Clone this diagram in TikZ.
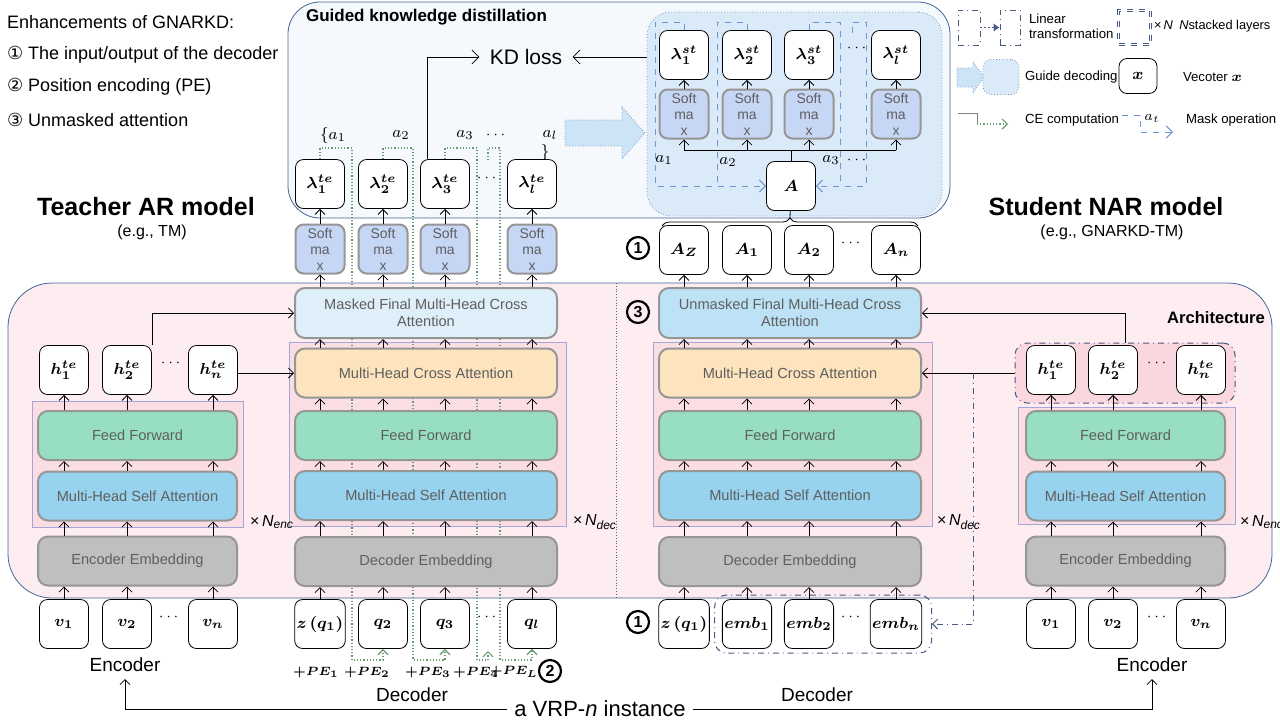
\documentclass[tikz,border=0pt]{standalone}
\usepackage{amsmath}
\usepackage{bm}
\usepackage{fontspec}
\setmainfont{Liberation Sans}
\newfontfamily\circfont{DejaVu Sans}
\usetikzlibrary{arrows.meta,decorations.pathreplacing}
\pgfdeclarelayer{back}
\pgfdeclarelayer{mid}
\pgfsetlayers{back,mid,main}
\definecolor{archpink}{RGB}{253,236,240}
\definecolor{archline}{RGB}{68,100,150}
\definecolor{stackpink}{RGB}{251,221,228}
\definecolor{stackline}{RGB}{165,165,215}
\definecolor{kdfill}{RGB}{245,249,253}
\definecolor{guidefill}{RGB}{218,234,248}
\definecolor{guideline}{RGB}{120,150,190}
\definecolor{smblue}{RGB}{198,214,245}
\definecolor{finlight}{RGB}{222,239,250}
\definecolor{finblue}{RGB}{189,226,245}
\definecolor{caorange}{RGB}{253,228,190}
\definecolor{ffgreen}{RGB}{152,222,192}
\definecolor{sablue}{RGB}{151,210,238}
\definecolor{embgray}{RGB}{191,191,191}
\definecolor{boxgray}{RGB}{150,150,150}
\definecolor{txtgray}{RGB}{95,95,95}
\definecolor{cegreen}{RGB}{105,155,115}
\definecolor{maskblue}{RGB}{110,150,210}
\definecolor{linblue}{RGB}{70,90,130}
\definecolor{grppink}{RGB}{250,214,222}
\definecolor{arrowfill}{RGB}{205,228,247}
\begin{document}
\begin{tikzpicture}[
    x=0.5pt, y=-0.5pt, line width=0.5pt,
    font=\fontsize{7.3}{8.5}\selectfont,
    vec/.style={draw, rounded corners=4pt, fill=white, minimum width=24.5pt, minimum height=24.5pt, inner sep=1pt, font=\fontsize{8}{9}\selectfont},
    blk/.style={draw=boxgray, line width=1pt, rounded corners=5pt, minimum height=24.5pt, text=txtgray, align=center, inner sep=1pt},
    softbox/.style={draw=boxgray, line width=1pt, rounded corners=4pt, fill=smblue, minimum width=24.5pt, minimum height=24.5pt, text=txtgray, align=center, inner sep=0pt, font=\fontsize{7}{8}\selectfont},
    dotsep/.style={font=\fontsize{7}{8}\selectfont, inner sep=0pt},
    stackbg/.style={draw=stackline, fill=stackpink, line width=0.5pt},
    arr/.style={-{Straight Barb[length=2.5pt,width=5pt]}},
    ce/.style={densely dotted, draw=cegreen, line width=0.6pt},
    cearr/.style={ce, -{Straight Barb[length=2.5pt,width=5pt]}},
    mask/.style={dashed, draw=maskblue, line width=0.5pt},
    maskarr/.style={mask, -{Straight Barb[length=3pt,width=6pt]}},
    lin/.style={dash dot, draw=linblue, line width=0.5pt},
    circnum/.style={circle, draw, line width=1.1pt, inner sep=0pt, minimum size=11pt, font=\fontsize{8}{8}\selectfont\bfseries},
    legtext/.style={anchor=west, font=\fontsize{6.6}{7.6}\selectfont, align=left},
    petext/.style={font=\fontsize{5.8}{6}\selectfont, inner sep=0pt},
    bigtext/.style={font=\fontsize{9}{11}\selectfont, anchor=west}
]
\useasboundingbox (0,0) rectangle (1280,720);

% backgrounds
\begin{pgfonlayer}{back}
\draw[archline, fill=archpink, rounded corners=22pt] (8,283) rectangle (1272,598);
\draw[archline, densely dotted] (616,283) -- (616,598);
\draw[archline, fill=kdfill, rounded corners=16pt] (288,2) rectangle (950,218);
\node[draw=guideline, densely dotted, fill=guidefill, rounded corners=12pt, minimum width=147.5pt, minimum height=102pt] (guide) at (794.5,114) {};
\draw[guideline, densely dotted, fill=arrowfill] (565,120) -- (622,120) -- (622,107) -- (645,133) -- (622,159) -- (622,146) -- (565,146) -- cycle;
\draw[stackbg] (32,401) rectangle (243,527);
\draw[stackbg] (289,342) rectangle (566,526);
\draw[stackbg] (653,342) rectangle (932,526);
\draw[stackbg] (1018,407) rectangle (1235,524);
\node[lin, fill=grppink, rounded corners=6pt, minimum width=110pt, minimum height=30pt] (sgrp) at (1125,373) {};
\end{pgfonlayer}

% legend, left
\node[bigtext] (enh) at (0,22) {Enhancements of GNARKD:};
\node[bigtext] (enh1) at (0,55) {{\circfont ①} The input/output of the decoder};
\node[bigtext] (enh2) at (0,87) {{\circfont ②} Position encoding (PE)};
\node[bigtext] (enh3) at (0,120) {{\circfont ③} Unmasked attention};

% titles
\node[font=\fontsize{12.5}{14}\selectfont\bfseries] (ttitle) at (146,207) {Teacher AR model};
\node[font=\fontsize{8}{9}\selectfont] (tsub) at (152,232) {(e.g., TM)};
\node[font=\fontsize{12.5}{14}\selectfont\bfseries] (stitle) at (1106,207) {Student NAR model};
\node[font=\fontsize{8}{9}\selectfont] (ssub) at (1112,232) {(e.g., GNARKD-TM)};
\node[anchor=west, font=\fontsize{8.5}{10}\selectfont\bfseries] (kdtitle) at (299,17) {Guided knowledge distillation};
\node[font=\fontsize{8.3}{10}\selectfont\bfseries] (archtitle) at (1216,318) {Architecture};

% teacher encoder
\node[vec] (tv1) at (64,624) {$\bm{v_1}$};
\node[vec] (tv2) at (127,624) {$\bm{v_2}$};
\node[vec] (tvn) at (213,624) {$\bm{v_n}$};
\node[dotsep] at (170,617) {$\cdots$};
\node[blk, fill=embgray, minimum width=99.5pt] (tenc) at (137.5,561) {Encoder Embedding};
\node[blk, fill=sablue, minimum width=99.5pt] (tesa) at (137.5,496) {Multi-Head Self Attention};
\node[blk, fill=ffgreen, minimum width=99.5pt] (teff) at (137.5,435.5) {Feed Forward};
\node[vec] (th1) at (64,370) {$\bm{h_1^{te}}$};
\node[vec] (th2) at (127,370) {$\bm{h_2^{te}}$};
\node[vec] (thn) at (213,370) {$\bm{h_n^{te}}$};
\node[dotsep] at (172,363) {$\cdots$};
\node[anchor=west, font=\fontsize{8}{9}\selectfont] at (243,522) {×\,\textit{N}\textsubscript{\textit{enc}}};
\foreach \v/\h in {tv1/th1, tv2/th2, tvn/thn} {
  \draw[arr] (\v) -- (\v |- tenc.south);
  \draw[arr] (\v |- tenc.north) -- (\v |- tesa.south);
  \draw[arr] (\v |- tesa.north) -- (\v |- teff.south);
  \draw[arr] (\v |- teff.north) -- (\h);
}

% teacher decoder
\node[vec] (tq1) at (320,624) {$\bm{z\,(q_1)}$};
\node[vec] (tq2) at (383,624) {$\bm{q_2}$};
\node[vec] (tq3) at (445,624) {$\bm{q_3}$};
\node[vec] (tql) at (532,624) {$\bm{q_l}$};
\node[dotsep] at (488,617) {$\cdots$};
\node[blk, fill=embgray, minimum width=131pt] (tdemb) at (426,561.5) {Decoder Embedding};
\node[blk, fill=sablue, minimum width=131pt] (tdsa) at (426,495.5) {Multi-Head Self Attention};
\node[blk, fill=ffgreen, minimum width=131pt] (tdff) at (426,435.5) {Feed Forward};
\node[blk, fill=caorange, minimum width=131pt] (tdca) at (426,373) {Multi-Head Cross Attention};
\node[blk, fill=finlight, minimum width=131pt, minimum height=25pt] (tfin) at (426,313) {Masked Final Multi-Head Cross\\Attention};
\node[anchor=west, font=\fontsize{8}{9}\selectfont] at (566,522) {×\,\textit{N}\textsubscript{\textit{dec}}};
\foreach \i/\x in {1/320, 2/383, 3/445, l/532} {
  \node[softbox] (tsm\i) at (\x,249) {Soft\\ma\\x};
  \node[vec] (tl\i) at (\x,184) {$\bm{\lambda_{\i}^{te}}$};
}
\node[dotsep] at (488,178) {$\cdots$};
\foreach \i in {1,2,3,l} {
  \draw[arr] (tq\i) -- (tq\i |- tdemb.south);
  \draw[arr] (tq\i |- tdemb.north) -- (tq\i |- tdsa.south);
  \draw[arr] (tq\i |- tdsa.north) -- (tq\i |- tdff.south);
  \draw[arr] (tq\i |- tdff.north) -- (tq\i |- tdca.south);
  \draw[arr] (tq\i |- tdca.north) -- (tq\i |- tfin.south);
  \draw[arr] (tq\i |- tfin.north) -- (tsm\i);
  \draw[arr] (tsm\i) -- (tl\i);
}
\draw[arr] (thn.east |- tdca.west) -- (tdca.west);
\draw[arr] (th2.north east) |- (tfin.west);

% position encodings
\node[petext] at (316,672) {$\bm{+PE_1}$};
\node[petext] at (367,672) {$\bm{+PE_2}$};
\node[petext] at (428,672) {$\bm{+PE_3}$};
\node[petext] at (476,672) {$\bm{+PE_4}$};
\node[petext] at (514,672) {$\bm{+PE_L}$};
\node[circnum] (n2) at (550,671) {2};

% labels above teacher outputs
\node[font=\fontsize{8}{9}\selectfont] at (333,135) {$\{a_1$};
\node[font=\fontsize{8}{9}\selectfont] at (401,135) {$a_2$};
\node[font=\fontsize{8}{9}\selectfont] at (465,135) {$a_3$};
\node[dotsep] at (497,135) {$\cdots$};
\node[font=\fontsize{8}{9}\selectfont] at (550,135) {$a_l$};
\node[font=\fontsize{8}{9}\selectfont] at (545,152) {$\}$};

% CE computation lines
\coordinate (tpe4) at (488,651);
\coordinate (tdt) at (488,160);
\begin{pgfonlayer}{mid}
\draw[cearr] (tl1.north) |- (352,148) -- (352,660) -| (tq2.south);
\draw[cearr] (tl2.north) |- (413,148) -- (413,660) -| (tq3.south);
\draw[cearr] (tl3.north) |- (477,148) -- (477,660) -| (tpe4);
\draw[cearr] (tdt) |- (500,148) -- (500,660) -| (tql.south);
\end{pgfonlayer}

% KD loss
\node[font=\fontsize{10.5}{12}\selectfont, inner sep=5pt] (kd) at (526,57) {KD loss};
\draw[-{Straight Barb[length=3.5pt,width=7pt]}] ([xshift=-9pt]tl3.north) |- (kd.west);
\draw[-{Straight Barb[length=3.5pt,width=7pt]}] (guide.west |- kd.west) -- (kd.east);

% guide decoding
\foreach \i/\x in {1/684, 2/747, 3/809, l/896} {
  \node[vec] (gl\i) at (\x,55) {$\bm{\lambda_{\i}^{st}}$};
  \node[softbox] (gs\i) at (\x,114) {Soft\\ma\\x};
  \draw[arr] (gs\i) -- (gl\i);
}
\node[dotsep] at (858,48) {$\cdots$};
\node[vec] (gA) at (791,186) {$\bm{A}$};
\coordinate (bus) at (791,150);
\draw (gA) -- (bus);
\draw (gs1 |- bus) -- (gsl |- bus);
\foreach \i in {1,2,3,l} \draw[arr] (gs\i |- bus) -- (gs\i);
\draw[maskarr] (gl1.north) |- (655,22) |- (gA.west);
\draw[mask] (gl2.north) |- (717,22) -- (717,186);
\draw[mask] (gl3.north) |- (840,22) -- (840,186);
\coordinate (gdt) at (852,33);
\draw[maskarr] (gdt) |- (866,22) |- (gA.east);
\node[font=\fontsize{8}{9}\selectfont] at (664,160) {$a_1$};
\node[font=\fontsize{8}{9}\selectfont] at (728,162) {$a_2$};
\node[font=\fontsize{8}{9}\selectfont] at (831,160) {$a_3$};
\node[dotsep] at (858,160) {$\cdots$};

% student decoder
\node[vec] (sb1) at (684,624) {$\bm{z\,(q_1)}$};
\node[vec] (sb2) at (747,624) {$\bm{emb_1}$};
\node[vec] (sb3) at (809,624) {$\bm{emb_2}$};
\node[vec] (sb4) at (896,624) {$\bm{emb_n}$};
\node[dotsep] at (852,617) {$\cdots$};
\node[lin, rounded corners=6pt, minimum width=108.5pt, minimum height=29pt] (sembgrp) at (823,624) {};
\node[circnum] (n1b) at (638,622) {1};
\node[blk, fill=embgray, minimum width=131pt] (sdemb) at (790,561.5) {Decoder Embedding};
\node[blk, fill=sablue, minimum width=131pt] (sdsa) at (790,495.5) {Multi-Head Self Attention};
\node[blk, fill=ffgreen, minimum width=131pt] (sdff) at (790,435.5) {Feed Forward};
\node[blk, fill=caorange, minimum width=131pt] (sdca) at (790,373) {Multi-Head Cross Attention};
\node[blk, fill=finblue, minimum width=131pt, minimum height=25pt] (sfin) at (790,313) {Unmasked Final Multi-Head Cross\\Attention};
\node[anchor=west, font=\fontsize{8}{9}\selectfont] at (930,522) {×\,\textit{N}\textsubscript{\textit{dec}}};
\node[circnum] (n3) at (638,312) {3};
\node[vec] (sa1) at (684,250) {$\bm{A_Z}$};
\node[vec] (sa2) at (747,250) {$\bm{A_1}$};
\node[vec] (sa3) at (809,250) {$\bm{A_2}$};
\node[vec] (sa4) at (896,250) {$\bm{A_n}$};
\node[dotsep] at (852,243) {$\cdots$};
\node[circnum] (n1a) at (638,248) {1};
\foreach \i in {1,2,3,4} {
  \draw[arr] (sb\i) -- (sb\i |- sdemb.south);
  \draw[arr] (sb\i |- sdemb.north) -- (sb\i |- sdsa.south);
  \draw[arr] (sb\i |- sdsa.north) -- (sb\i |- sdff.south);
  \draw[arr] (sb\i |- sdff.north) -- (sb\i |- sdca.south);
  \draw[arr] (sb\i |- sdca.north) -- (sb\i |- sfin.south);
  \draw[arr] (sb\i |- sfin.north) -- (sa\i);
}
\draw[decorate, decoration={brace, amplitude=4pt}] (662,226) -- (918,226);
\coordinate (btip) at (790,218);
\draw (btip) -- (gA);

% student encoder
\node[vec] (sv1) at (1051,624) {$\bm{v_1}$};
\node[vec] (sv2) at (1113,624) {$\bm{v_2}$};
\node[vec] (svn) at (1201,624) {$\bm{v_n}$};
\node[dotsep] at (1158,617) {$\cdots$};
\node[blk, fill=embgray, minimum width=99.5pt] (senc) at (1125.5,561) {Encoder Embedding};
\node[blk, fill=sablue, minimum width=99.5pt] (sesa) at (1125.5,496) {Multi-Head Self Attention};
\node[blk, fill=ffgreen, minimum width=99.5pt] (seff) at (1125.5,435.5) {Feed Forward};
\node[vec] (sh1) at (1051,370) {$\bm{h_1^{te}}$};
\node[vec] (sh2) at (1113,370) {$\bm{h_2^{te}}$};
\node[vec] (shn) at (1201,370) {$\bm{h_n^{te}}$};
\node[dotsep] at (1158,363) {$\cdots$};
\node[anchor=west, font=\fontsize{8}{9}\selectfont] at (1233,522) {×\,\textit{N}\textsubscript{\textit{enc}}};
\foreach \v/\h in {sv1/sh1, sv2/sh2, svn/shn} {
  \draw[arr] (\v) -- (\v |- senc.south);
  \draw[arr] (\v |- senc.north) -- (\v |- sesa.south);
  \draw[arr] (\v |- sesa.north) -- (\v |- seff.south);
  \draw[arr] (\v |- seff.north) -- (\h);
}
\draw[arr] (sgrp.north) |- (sfin.east);
\draw[arr] (sgrp.west) -- (sdca.east);
\coordinate (sbr) at (973,373);
\draw[lin, -{Straight Barb[length=2.5pt,width=5pt]}] (sbr) |- (sembgrp.east);

% bottom
\node[font=\fontsize{9.5}{11}\selectfont] (tencl) at (125,665) {Encoder};
\node[font=\fontsize{9.5}{11}\selectfont] (sencl) at (1152,665) {Encoder};
\node[font=\fontsize{9.5}{11}\selectfont] (tdecl) at (412,695) {Decoder};
\node[font=\fontsize{9.5}{11}\selectfont] (sdecl) at (817,695) {Decoder};
\node[font=\fontsize{11}{13}\selectfont] (inst) at (600,709) {a VRP-\textit{n} instance};
\draw[arr] (inst.west) -| (tencl.south);
\draw[arr] (inst.east) -| (sencl.south);

% legend, right
\node[lin, minimum width=11pt, minimum height=17.5pt] (lt1) at (969,27.5) {};
\node[lin, minimum width=10pt, minimum height=17.5pt] (lt2) at (1010,27.5) {};
\draw[densely dotted, draw=linblue, line width=0.9pt, -{Latex[length=3pt,width=4.5pt]}] (lt1) -- (lt2);
\node[legtext] at (1022,26) {Linear\\transformation};
\node[draw=linblue, dashed, double=white, double distance=0.8pt, minimum width=16pt, minimum height=17pt] (lstk) at (1134.5,27.5) {};
\node[legtext, font=\fontsize{6.4}{7.4}\selectfont] at (1147,26) {×\,\textit{N}\enspace\textit{N}stacked layers};
\draw[guideline, densely dotted, fill=arrowfill] (957,68) -- (973,68) -- (973,62) -- (984,77) -- (973,93) -- (973,87) -- (957,87) -- cycle;
\node[draw=guideline, densely dotted, fill=guidefill, rounded corners=4pt, minimum width=18pt, minimum height=17.5pt] (lgd) at (1001,77) {};
\node[legtext] at (1018,77) {Guide decoding};
\node[vec, minimum width=19pt, minimum height=17.5pt] (lvx) at (1138,76) {$\bm{x}$};
\node[legtext] at (1176,77) {Vecoter $\bm{x}$};
\coordinate (lce0) at (958,113);
\coordinate (lce1) at (1008,124);
\draw[draw=gray] (lce0) -- (977,113) -- (977,124);
\draw[cearr] (977,124) -- (lce1);
\node[legtext] at (1018,120) {CE computation};
\coordinate (lmk0) at (1122,115);
\coordinate (lmk1) at (1173,132);
\draw[maskarr] (lmk0) -| (1140,132) -- (lmk1);
\node[font=\fontsize{7.5}{8}\selectfont] at (1152,118) {$a_t$};
\node[legtext] at (1179,120) {Mask operation};
\end{tikzpicture}
\end{document}
